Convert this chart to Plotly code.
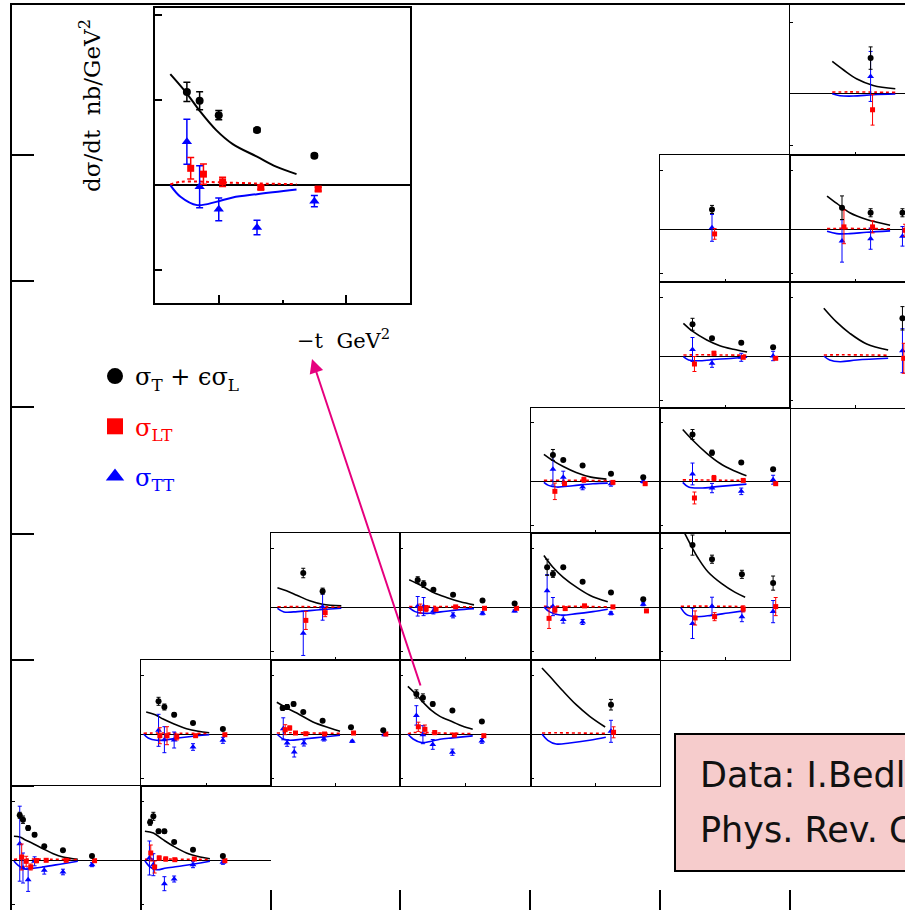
import plotly.graph_objects as go

W, H = 905, 910

# ---------------------------------------------------------------------------
# Data.  For every panel:
#   *_BLK : sigma_T + eps sigma_L   [ -t (GeV^2) , value , error ]
#   *_LT  : sigma_LT                [ -t , value , error ]
#   *_TT  : sigma_TT                [ -t , value , error ]
#   *_CT / *_CLT / *_CTT : model curves [ -t , value ]
# ---------------------------------------------------------------------------
R6C0_BLK = [[0.12, 0.17, 0.25, 0.35, 0.50, 0.79, 1.24], [44.7, 40.3, 32.0, 25.3, 13.7, 9.7, 4.0], [3.0, 3.7, 2.3, 2.0, 1.0, 1.0, 1.0]]
R6C0_LT = [[0.15, 0.22, 0.29, 0.38, 0.53, 0.84, 1.28], [3.0, -1.3, -7.0, -0.7, -0.3, -0.3, -0.7], [13.0, 5.0, 3.0, 2.0, 1.0, 1.0, 1.0]]
R6C0_TT = [[0.12, 0.17, 0.25, 0.35, 0.50, 0.79, 1.24], [16.3, -8.0, -19.7, -1.3, -10.3, -12.0, -4.7], [37.5, 15.0, 11.7, 4.5, 3.8, 2.8, 2.0]]
R6C0_CT = [[0.03, 0.12, 0.20, 0.33, 0.48, 0.64, 0.79, 1.02], [23.7, 23.0, 20.3, 16.3, 11.3, 6.3, 3.0, 0.7]]
R6C0_CLT = [[0.03, 0.20, 0.50, 1.02], [0.8, 1.0, 0.8, 0.5]]
R6C0_CTT = [[0.03, 0.10, 0.20, 0.33, 0.48, 0.79, 1.02], [-1.0, -5.7, -9.0, -8.3, -7.0, -3.7, -1.3]]

R6C1_BLK = [[0.14, 0.19, 0.27, 0.36, 0.51, 0.80, 1.26], [37.7, 43.7, 28.7, 28.7, 18.0, 10.3, 4.0], [3.0, 4.0, 2.0, 2.0, 1.5, 1.0, 1.0]]
R6C1_LT = [[0.15, 0.21, 0.28, 0.38, 0.52, 0.82, 1.29], [7.0, -7.0, 2.0, 1.0, 0.3, 1.0, -0.7], [8.0, 6.0, 2.0, 2.0, 1.0, 1.0, 1.0]]
R6C1_TT = [[0.13, 0.19, 0.36, 0.51, 0.80, 1.26], [2.0, -4.7, -23.7, -19.0, -4.7, -2.3], [17.0, 11.0, 7.0, 3.0, 3.0, 2.0]]
R6C1_CT = [[0.06, 0.19, 0.34, 0.50, 0.70, 0.91, 1.06], [28.7, 27.0, 20.3, 13.7, 7.0, 3.0, 1.3]]
R6C1_CLT = [[0.06, 0.30, 0.60, 1.06], [0.8, 1.0, 0.8, 0.5]]
R6C1_CTT = [[0.06, 0.14, 0.24, 0.39, 0.64, 0.91, 1.06], [-0.7, -7.0, -9.7, -8.0, -5.7, -3.0, -1.3]]

R5C1_BLK = [[0.27, 0.36, 0.51, 0.80, 1.26], [32.7, 27.0, 19.3, 11.0, 5.0], [4.0, 3.0, 2.0, 1.0, 1.0]]
R5C1_LT = [[0.29, 0.40, 0.55, 0.84, 1.29], [-1.7, -1.7, -3.0, -1.7, -0.7], [8.0, 9.0, 3.0, 1.0, 1.0]]
R5C1_TT = [[0.27, 0.36, 0.51, 0.80, 1.26], [3.7, -5.7, -6.0, -13.0, -6.3], [16.0, 13.0, 8.0, 3.3, 3.0]]
R5C1_CT = [[0.08, 0.22, 0.34, 0.50, 0.70, 0.88, 1.05], [22.0, 19.3, 15.0, 10.3, 5.3, 2.7, 1.3]]
R5C1_CLT = [[0.04, 0.30, 0.60, 1.05], [0.8, 1.0, 0.8, 0.5]]
R5C1_CTT = [[0.04, 0.11, 0.24, 0.39, 0.60, 0.86, 1.05], [0.0, -4.0, -6.3, -5.7, -3.7, -1.7, -0.7]]

R5C2_BLK = [[0.18, 0.25, 0.35, 0.50, 0.80, 1.24, 1.74], [26.0, 27.0, 30.0, 22.0, 13.3, 6.7, 3.7], [2.5, 2.5, 2.0, 1.0, 1.0, 1.0, 1.0]]
R5C2_LT = [[0.22, 0.29, 0.38, 0.54, 0.83, 1.28, 1.78], [4.3, 6.0, 1.0, 0.3, 0.0, 1.0, 0.0], [5.0, 2.0, 1.0, 1.0, 1.0, 1.0, 1.0]]
R5C2_TT = [[0.19, 0.25, 0.36, 0.51, 0.82, 1.26, 1.76], [5.2, -9.0, -18.0, -9.0, -5.0, -7.3, -0.7], [11.0, 3.3, 5.0, 3.0, 2.0, 1.0, 1.0]]
R5C2_CT = [[0.09, 0.24, 0.40, 0.65, 0.91, 1.07], [31.7, 26.0, 21.0, 12.0, 6.0, 2.7]]
R5C2_CLT = [[0.09, 0.30, 0.60, 1.07], [1.0, 1.2, 1.0, 0.6]]
R5C2_CTT = [[0.09, 0.19, 0.29, 0.50, 0.81, 1.07], [0.0, -5.0, -6.3, -5.0, -3.0, -1.3]]

R5C3_BLK = [[0.25, 0.35, 0.50, 0.80, 1.25], [40.0, 36.2, 30.0, 23.6, 12.6], [4.1, 3.9, 2.0, 0.8, 0.8]]
R5C3_LT = [[0.28, 0.38, 0.53, 0.83, 1.28], [7.2, 4.7, 1.4, -1.0, -1.7], [4.6, 4.3, 2.0, 0.8, 0.8]]
R5C3_TT = [[0.25, 0.35, 0.50, 0.80, 1.25], [18.6, -0.7, -10.4, -18.2, -6.9], [9.7, 9.0, 4.9, 3.1, 2.4]]
R5C3_CT = [[0.12, 0.25, 0.35, 0.48, 0.61, 0.80, 0.95, 1.11], [47.6, 39.3, 31.9, 23.6, 17.6, 12.2, 7.9, 4.7]]
R5C3_CLT = [[0.12, 0.20, 0.35, 0.50, 0.80, 1.11], [0.3, 1.4, 1.5, 1.2, 0.7, 0.4]]
R5C3_CTT = [[0.12, 0.20, 0.33, 0.48, 0.61, 0.80, 1.11], [0.0, -5.0, -8.6, -7.2, -5.3, -3.9, -1.9]]

R5C4_BLK = [[1.24], [29.3], [5.3]]
R5C4_LT = [[1.28], [1.7], [5.5]]
R5C4_TT = [[1.24], [2.7], [11.0]]
R5C4_CT = [[0.17, 0.29, 0.50, 0.70, 0.91, 1.15], [66.0, 57.7, 42.7, 29.3, 17.7, 7.0]]
R5C4_CLT = [[0.17, 0.40, 0.70, 1.16], [1.0, 1.2, 1.0, 0.6]]
R5C4_CTT = [[0.17, 0.26, 0.39, 0.60, 0.91, 1.16], [0.0, -6.3, -10.0, -9.0, -6.3, -3.3]]

R4C2_BLK = [[0.50, 0.80], [34.3, 16.3], [4.7, 3.0]]
R4C2_LT = [[0.54, 0.84], [-12.7, -5.0], [9.0, 4.0]]
R4C2_TT = [[0.50, 0.80], [-25.5, 0.5], [22.0, 13.0]]
R4C2_CT = [[0.10, 0.24, 0.40, 0.60, 0.80, 1.09], [19.7, 16.7, 12.3, 6.7, 3.3, 1.7]]
R4C2_CLT = [[0.10, 0.40, 0.70, 1.09], [0.8, 1.0, 0.8, 0.5]]
R4C2_CTT = [[0.10, 0.20, 0.35, 0.60, 0.86, 1.09], [-0.7, -4.3, -4.3, -3.0, -1.7, -0.7]]

R4C3_BLK = [[0.27, 0.36, 0.51, 0.81, 1.26, 1.75], [27.3, 23.3, 17.7, 12.7, 7.0, 4.0], [3.3, 3.3, 1.0, 1.0, 1.0, 1.0]]
R4C3_LT = [[0.31, 0.40, 0.55, 0.85, 1.29, 1.78], [-1.0, -1.0, -1.7, 0.7, -0.7, -0.7], [4.5, 3.0, 1.0, 1.0, 1.0, 1.0]]
R4C3_TT = [[0.27, 0.36, 0.51, 0.81, 1.26, 1.75], [1.3, 1.0, -3.3, -7.7, -5.7, -3.3], [9.7, 9.0, 3.0, 2.5, 1.5, 1.0]]
R4C3_CT = [[0.14, 0.31, 0.51, 0.71, 0.92, 1.13], [27.7, 22.3, 15.0, 10.0, 5.7, 2.7]]
R4C3_CLT = [[0.14, 0.40, 0.70, 1.13], [1.0, 1.2, 1.0, 0.6]]
R4C3_CTT = [[0.14, 0.23, 0.36, 0.62, 0.87, 1.13], [0.0, -4.0, -5.7, -4.3, -2.3, -1.0]]

R4C4_BLK = [[0.25, 0.34, 0.50, 0.80, 1.24, 1.74], [40.0, 33.3, 40.0, 25.7, 15.0, 8.3], [8.0, 3.3, 1.0, 1.0, 1.0, 1.5]]
R4C4_LT = [[0.28, 0.37, 0.53, 0.83, 1.27, 1.79], [-10.7, -2.3, -1.0, 1.7, 0.7, -3.3], [10.0, 3.0, 1.5, 1.5, 1.0, 1.0]]
R4C4_TT = [[0.25, 0.34, 0.50, 0.80, 1.24, 1.74], [16.7, 1.0, -11.7, -14.3, -5.7, 3.3], [16.0, 9.0, 3.7, 2.5, 1.5, 1.5]]
R4C4_CT = [[0.20, 0.34, 0.50, 0.71, 0.91, 1.19], [51.7, 40.0, 30.0, 20.0, 12.3, 5.7]]
R4C4_CLT = [[0.20, 0.50, 0.90, 1.19], [1.3, 1.3, 1.0, 0.7]]
R4C4_CTT = [[0.20, 0.29, 0.45, 0.71, 0.96, 1.19], [0.7, -4.3, -7.3, -6.0, -4.0, -1.7]]

R4C5_BLK = [[0.50, 0.80, 1.26, 1.74], [62.0, 48.0, 33.0, 24.3], [10.0, 4.0, 4.0, 7.0]]
R4C5_LT = [[0.54, 0.84, 1.28, 1.78], [-10.3, -9.0, -1.3, 1.0], [7.0, 4.0, 3.0, 9.0]]
R4C5_TT = [[0.50, 0.80, 1.26, 1.74], [-15.7, 1.3, -9.0, -4.0], [15.0, 9.0, 5.0, 11.0]]
R4C5_CT = [[0.37, 0.46, 0.59, 0.74, 0.95, 1.15, 1.31], [75.0, 63.7, 48.7, 35.3, 23.7, 15.3, 10.3]]
R4C5_CLT = [[0.32, 0.60, 1.00, 1.31], [1.3, 1.5, 1.3, 1.0]]
R4C5_CTT = [[0.32, 0.41, 0.54, 0.79, 1.05, 1.31], [0.0, -7.0, -9.0, -7.7, -5.3, -3.0]]

R3C4_BLK = [[0.34, 0.50, 0.80, 1.24, 1.74], [26.7, 21.7, 16.0, 7.7, 4.3], [5.5, 1.0, 1.0, 1.0, 1.0]]
R3C4_LT = [[0.37, 0.52, 0.82, 1.27, 1.77], [-10.0, -2.3, 1.7, -1.0, -2.3], [8.3, 1.5, 2.5, 1.0, 1.0]]
R3C4_TT = [[0.34, 0.50, 0.80, 1.24, 1.74], [12.3, 4.3, -5.7, -2.3, 0.0], [16.0, 6.0, 2.7, 2.5, 1.5]]
R3C4_CT = [[0.20, 0.34, 0.50, 0.70, 0.93, 1.17], [27.3, 21.0, 15.0, 9.0, 4.3, 2.3]]
R3C4_CLT = [[0.20, 0.50, 0.90, 1.19], [1.0, 1.2, 1.0, 0.7]]
R3C4_CTT = [[0.20, 0.27, 0.40, 0.65, 0.96, 1.19], [-1.0, -4.0, -5.7, -4.3, -2.3, -1.7]]

R3C5_BLK = [[0.50, 0.80, 1.25, 1.74], [47.3, 29.0, 19.0, 12.3], [5.0, 2.5, 1.5, 1.5]]
R3C5_LT = [[0.53, 0.83, 1.28, 1.78], [-16.7, 3.3, 1.0, -2.3], [6.0, 2.7, 1.0, 1.0]]
R3C5_TT = [[0.50, 0.80, 1.25, 1.74], [7.5, -6.7, -10.0, 1.7], [11.0, 4.7, 3.3, 4.5]]
R3C5_CT = [[0.35, 0.50, 0.72, 0.92, 1.13, 1.33], [52.3, 41.7, 28.3, 18.3, 11.0, 5.7]]
R3C5_CLT = [[0.35, 0.60, 1.00, 1.33], [1.5, 1.5, 1.2, 1.0]]
R3C5_CTT = [[0.35, 0.44, 0.62, 0.92, 1.33], [-1.0, -5.7, -6.7, -5.0, -2.7]]

R2C5_BLK = [[0.50, 0.80, 1.25, 1.74], [31.7, 17.7, 13.3, 8.7], [6.0, 1.5, 1.5, 1.5]]
R2C5_LT = [[0.53, 0.83, 1.28, 1.78], [-8.0, 2.7, -1.3, -2.3], [7.5, 2.0, 1.0, 1.0]]
R2C5_TT = [[0.50, 0.80, 1.25, 1.74], [6.5, -7.3, -1.3, 0.0], [12.0, 4.0, 4.0, 4.7]]
R2C5_CT = [[0.36, 0.51, 0.72, 0.92, 1.13, 1.34], [32.7, 24.3, 16.0, 10.3, 6.7, 4.0]]
R2C5_CLT = [[0.36, 0.60, 1.00, 1.34], [1.0, 1.2, 1.0, 0.8]]
R2C5_CTT = [[0.36, 0.44, 0.62, 0.87, 1.13, 1.34], [-0.7, -4.0, -4.7, -3.3, -2.3, -1.3]]

R2C6_BLK = [[1.73], [37.7], [11.7]]
R2C6_LT = [[1.75], [-2.3], [15.0]]
R2C6_TT = [[1.73], [5.3], [22.0]]
R2C6_CT = [[0.52, 0.71, 0.92, 1.18, 1.51], [47.7, 34.3, 22.7, 12.0, 6.0]]
R2C6_CLT = [[0.52, 0.80, 1.20, 1.51], [1.0, 1.2, 1.0, 0.8]]
R2C6_CTT = [[0.52, 0.61, 0.77, 1.03, 1.51], [0.0, -4.0, -5.7, -4.0, -2.3]]

R1C5_BLK = [[0.80], [20.0], [4.0]]
R1C5_LT = [[0.84], [-4.3], [5.3]]
R1C5_TT = [[0.80], [1.7], [13.3]]

R1C6_BLK = [[0.80, 1.24, 1.73], [21.7, 16.7, 16.7], [11.7, 4.0, 4.0]]
R1C6_LT = [[0.83, 1.27, 1.77], [2.7, 2.7, -0.7], [16.7, 6.0, 6.0]]
R1C6_TT = [[0.80, 1.24, 1.73], [-11.3, -9.0, -6.7], [21.0, 10.5, 9.7]]
R1C6_CT = [[0.57, 0.72, 0.92, 1.18, 1.54], [33.3, 26.0, 16.7, 10.0, 4.3]]
R1C6_CLT = [[0.57, 0.80, 1.20, 1.54], [1.0, 1.2, 1.0, 0.8]]
R1C6_CTT = [[0.57, 0.72, 0.92, 1.18, 1.54], [-1.7, -4.0, -4.0, -2.7, -1.3]]

R0C6_BLK = [[1.24], [29.4], [9.4]]
R0C6_LT = [[1.27], [-14.0], [12.9]]
R0C6_TT = [[1.24], [14.0], [21.0]]
R0C6_CT = [[0.65, 0.82, 1.03, 1.28, 1.62], [26.6, 19.6, 11.8, 6.4, 3.6]]
R0C6_CLT = [[0.65, 0.90, 1.30, 1.62], [0.8, 1.0, 0.8, 0.6]]
R0C6_CTT = [[0.65, 0.77, 0.97, 1.28, 1.62], [-0.6, -2.2, -2.5, -1.4, -0.8]]

LEGEND_NAMES = ["σ<sub>T</sub> + ϵσ<sub>L</sub>", "σ<sub>LT</sub>", "σ<sub>TT</sub>"]
Y_TITLE = "dσ/dt\u00a0\u00a0nb/GeV<sup>2</sup>"
X_TITLE = "−t\u00a0\u00a0GeV<sup>2</sup>"
BOX_LINES = ["Data: I.Bedlinskiy et al.", "Phys. Rev. C 90, 025205 (2014)"]

# outer frame (grid) tick values
OUTER_TICKS = [1, 2, 3, 4, 5, 6]

# (column, row, blk, lt, tt, curve_t, curve_lt, curve_tt)
PANELS = [
    (0, 6, R6C0_BLK, R6C0_LT, R6C0_TT, R6C0_CT, R6C0_CLT, R6C0_CTT),
    (1, 6, R6C1_BLK, R6C1_LT, R6C1_TT, R6C1_CT, R6C1_CLT, R6C1_CTT),
    (1, 5, R5C1_BLK, R5C1_LT, R5C1_TT, R5C1_CT, R5C1_CLT, R5C1_CTT),
    (2, 5, R5C2_BLK, R5C2_LT, R5C2_TT, R5C2_CT, R5C2_CLT, R5C2_CTT),
    (3, 5, R5C3_BLK, R5C3_LT, R5C3_TT, R5C3_CT, R5C3_CLT, R5C3_CTT),
    (4, 5, R5C4_BLK, R5C4_LT, R5C4_TT, R5C4_CT, R5C4_CLT, R5C4_CTT),
    (2, 4, R4C2_BLK, R4C2_LT, R4C2_TT, R4C2_CT, R4C2_CLT, R4C2_CTT),
    (3, 4, R4C3_BLK, R4C3_LT, R4C3_TT, R4C3_CT, R4C3_CLT, R4C3_CTT),
    (4, 4, R4C4_BLK, R4C4_LT, R4C4_TT, R4C4_CT, R4C4_CLT, R4C4_CTT),
    (5, 4, R4C5_BLK, R4C5_LT, R4C5_TT, R4C5_CT, R4C5_CLT, R4C5_CTT),
    (4, 3, R3C4_BLK, R3C4_LT, R3C4_TT, R3C4_CT, R3C4_CLT, R3C4_CTT),
    (5, 3, R3C5_BLK, R3C5_LT, R3C5_TT, R3C5_CT, R3C5_CLT, R3C5_CTT),
    (5, 2, R2C5_BLK, R2C5_LT, R2C5_TT, R2C5_CT, R2C5_CLT, R2C5_CTT),
    (6, 2, R2C6_BLK, R2C6_LT, R2C6_TT, R2C6_CT, R2C6_CLT, R2C6_CTT),
    (5, 1, R1C5_BLK, R1C5_LT, R1C5_TT, None, None, None),
    (6, 1, R1C6_BLK, R1C6_LT, R1C6_TT, R1C6_CT, R1C6_CLT, R1C6_CTT),
    (6, 0, R0C6_BLK, R0C6_LT, R0C6_TT, R0C6_CT, R0C6_CLT, R0C6_CTT),
]

# ---------------------------------------------------------------------------
# layout geometry (pixels of the 905x910 page)
COL_L = [12, 141, 271, 400, 531, 660, 790]
COL_R = [141, 271, 400, 531, 660, 790, 920]
ROW_T = [5, 155, 282, 408, 533, 660, 786]
ROW_B = [155, 282, 408, 533, 660, 786, 912]
T_RANGE = [0.0, 2.0]
V_RANGE = [-52.0, 74.0]
INSET_PX = (155, 8, 410, 303)
INSET_V_RANGE = [-50.6, 76.0]

BLACK, RED, BLUE = "#000000", "#ff0000", "#0000ff"
SERIF = "DejaVu Serif"

fig = go.Figure()
layout = dict(
    width=W, height=H, margin=dict(l=0, r=0, t=0, b=0),
    paper_bgcolor="white", plot_bgcolor="rgba(0,0,0,0)",
    showlegend=True,
)


def px_x(p):
    return p / W


def px_y(p):
    return 1 - p / H


# outer frame: axes 1 (bottom ticks + left line) and 2 (top line)
ox_range = [1 - (141 - 12) / 129.7, 1 - (141 - 12) / 129.7 + (W - 12) / 129.7]
oy_range = [1 - (H - 786) / 126.2, 6 + (155 - 5) / 126.2]
layout["xaxis"] = dict(domain=[px_x(12), 1], range=ox_range, anchor="y",
                       tickvals=OUTER_TICKS, ticks="inside", ticklen=20, tickwidth=1.5,
                       tickcolor=BLACK, showticklabels=False, showline=False,
                       showgrid=False, zeroline=False)
layout["yaxis"] = dict(domain=[0, px_y(5)], range=oy_range, anchor="x",
                       tickvals=OUTER_TICKS, ticks="inside", ticklen=22, tickwidth=1.5,
                       tickcolor=BLACK, showticklabels=False, showline=True,
                       linewidth=2, linecolor=BLACK, mirror=False,
                       showgrid=False, zeroline=False)
layout["xaxis2"] = dict(overlaying="x", side="top", anchor="y", range=ox_range,
                        showline=True, linewidth=2, linecolor=BLACK, ticks="",
                        showticklabels=False, showgrid=False, zeroline=False)
fig.add_trace(go.Scatter(x=[None], y=[None], xaxis="x2", yaxis="y",
                         showlegend=False, hoverinfo="skip"))

# legend entries
for name, sym, col, grp in zip(LEGEND_NAMES, ["circle", "square", "triangle-up"],
                               [BLACK, RED, BLUE], ["g1", "g2", "g3"]):
    fig.add_trace(go.Scatter(x=[None], y=[None], xaxis="x", yaxis="y", mode="markers",
                             marker=dict(symbol=sym, size=16, color=col),
                             name=f'<span style="color:{col}">{name}</span>',
                             legendgroup=grp, showlegend=True))


def add_panel(n, dom_x, dom_y, xr, yr, blk, lt, tt, ct, clt, ctt, big=False,
              right_line=True, bottom_line=True):
    xa, ya = f"x{n}", f"y{n}"
    lw = 1.5 if big else 1.2
    xaxis = dict(domain=dom_x, range=xr, anchor=ya, showgrid=False, zeroline=False,
                 showticklabels=False, showline=True, linecolor=BLACK, linewidth=lw,
                 mirror=True, ticks="inside", tickcolor=BLACK, tickwidth=1,
                 ticklen=3, tickvals=[1.0])
    yaxis = dict(domain=dom_y, range=yr, anchor=xa, showgrid=False, zeroline=True,
                 zerolinecolor=BLACK, zerolinewidth=1, showticklabels=False,
                 showline=True, linecolor=BLACK, linewidth=lw, mirror=right_line,
                 ticks="inside", tickcolor=BLACK, tickwidth=1, ticklen=3,
                 tickvals=[59, -44])
    if not bottom_line:
        xaxis.update(side="top", mirror=False, ticks="")
    if big:
        xaxis.update(tickvals=[0.5, 1.5], ticklen=8, tickwidth=1.5,
                     minor=dict(tickvals=[1.0], ticklen=3, ticks="inside", tickcolor=BLACK))
        yaxis.update(tickvals=[73, 36.5, -36.5], ticklen=7, tickwidth=1.5,
                     zerolinewidth=2)
    layout[f"xaxis{n}"] = xaxis
    layout[f"yaxis{n}"] = yaxis

    cw = 2 if big else 1.6
    if ct is not None:
        fig.add_trace(go.Scatter(x=ct[0], y=ct[1], xaxis=xa, yaxis=ya, mode="lines",
                                 line=dict(color=BLACK, width=cw, shape="spline"),
                                 showlegend=False, hoverinfo="skip"))
        fig.add_trace(go.Scatter(x=ctt[0], y=ctt[1], xaxis=xa, yaxis=ya, mode="lines",
                                 line=dict(color=BLUE, width=cw, shape="spline"),
                                 showlegend=False, hoverinfo="skip"))
        fig.add_trace(go.Scatter(x=clt[0], y=clt[1], xaxis=xa, yaxis=ya, mode="lines",
                                 line=dict(color=RED, width=cw, dash="dot", shape="spline"),
                                 showlegend=False, hoverinfo="skip"))
    capw = 3.5 if big else 2
    eth = 1.5 if big else 1
    sizes = (9, 7, 8) if big else (6, 5, 6)
    for data, sym, col, s in [(tt, "triangle-up", BLUE, sizes[0]), (lt, "square", RED, sizes[1]),
                              (blk, "circle", BLACK, sizes[2])]:
        fig.add_trace(go.Scatter(x=data[0], y=data[1], xaxis=xa, yaxis=ya, mode="markers",
                                 marker=dict(symbol=sym, size=s, color=col),
                                 error_y=dict(type="data", array=data[2], color=col,
                                              thickness=eth, width=capw),
                                 showlegend=False, hoverinfo="skip"))


n = 3
for (c, r, blk, lt, tt, ct, clt, ctt) in PANELS:
    x0, x1 = COL_L[c], COL_R[c]
    y0, y1 = ROW_T[r], ROW_B[r]
    xr = list(T_RANGE)
    yr = list(V_RANGE)
    right_line = True
    bottom_line = True
    if x1 > W:
        xr[1] = T_RANGE[0] + (T_RANGE[1] - T_RANGE[0]) * (W - x0) / (x1 - x0)
        x1 = W
        right_line = False
    if y1 > H:
        yr[0] = V_RANGE[0] + (V_RANGE[1] - V_RANGE[0]) * (y1 - H) / (y1 - y0)
        y1 = H
        bottom_line = False
    if (c, r) == (1, 6):
        right_line = False
    add_panel(n, [px_x(x0), px_x(x1)], [px_y(y1), px_y(y0)], xr, yr,
              blk, lt, tt, ct, clt, ctt, right_line=right_line, bottom_line=bottom_line)
    n += 1

# magnified inset of the (3,5) panel
ix0, iy0, ix1, iy1 = INSET_PX
add_panel(n, [px_x(ix0), px_x(ix1)], [px_y(iy1), px_y(iy0)], list(T_RANGE), INSET_V_RANGE,
          R5C3_BLK, R5C3_LT, R5C3_TT, R5C3_CT, R5C3_CLT, R5C3_CTT, big=True)

layout["legend"] = dict(x=px_x(95), y=px_y(354), xanchor="left", yanchor="top",
                        bgcolor="rgba(0,0,0,0)", tracegroupgap=16,
                        font=dict(family=SERIF, size=24, color=BLACK),
                        traceorder="grouped")

annotations = [
    dict(text=Y_TITLE, x=px_x(90), y=px_y(106), xref="paper", yref="paper",
         xanchor="center", yanchor="middle",
         showarrow=False, textangle=-90, font=dict(family=SERIF, size=23, color=BLACK)),
    dict(text=X_TITLE, x=px_x(343), y=px_y(339), xref="paper", yref="paper",
         xanchor="center", yanchor="middle",
         showarrow=False, font=dict(family=SERIF, size=21, color=BLACK)),
    dict(text="", x=px_x(312), y=px_y(359), xref="paper", yref="paper",
         ax=421 - 312, ay=687 - 359, showarrow=True, arrowhead=2, arrowsize=1.4,
         arrowwidth=2, arrowcolor="#e6007e", standoff=0, startstandoff=0),
    dict(text=BOX_LINES[0], x=px_x(698), y=px_y(775), xref="paper", yref="paper",
         xanchor="left", yanchor="middle", showarrow=False,
         font=dict(family="DejaVu Sans", size=35, color="#111111")),
    dict(text=BOX_LINES[1], x=px_x(698), y=px_y(830), xref="paper", yref="paper",
         xanchor="left", yanchor="middle", showarrow=False,
         font=dict(family="DejaVu Sans", size=35, color="#111111")),
]
layout["annotations"] = annotations
layout["shapes"] = [dict(type="rect", xref="paper", yref="paper",
                         x0=px_x(675), x1=1.1, y0=px_y(871), y1=px_y(734),
                         fillcolor="#f6cccc", line=dict(color=BLACK, width=2), layer="above")]

fig.update_layout(**layout)
fig.write_html("out.html")
